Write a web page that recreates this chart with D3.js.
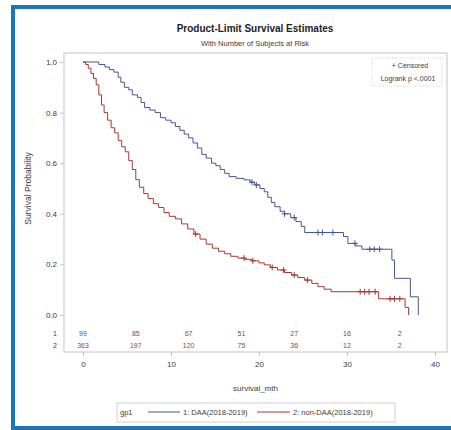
<!DOCTYPE html>
<html>
<head>
<meta charset="utf-8">
<script src="https://cdn.jsdelivr.net/npm/d3@7"></script>
<style>
  html, body { margin: 0; padding: 0; background: #fff; }
  svg { display: block; font-family: "Liberation Sans", Arial, sans-serif; }
</style>
</head>
<body>
<svg id="chart" width="451" height="430"></svg>
<script>
// ---- Data ----
const group1Label = "1: DAA(2018-2019)";
const group2Label = "2: non-DAA(2018-2019)";

const blueTimes = [0, 1.8, 2.5, 3.0, 3.5, 4.0, 4.3, 4.7, 5.2, 5.6, 6.2, 6.6, 7.0, 7.6, 8.2, 8.8, 9.4, 10.0, 10.5, 11.0, 11.5, 12.0, 12.5, 13.0, 13.5, 14.0, 14.6, 15.1, 15.6, 16.1, 16.6, 17.4, 18.3, 19.0, 19.5, 20.1, 20.6, 21.0, 21.4, 21.8, 22.4, 22.9, 23.6, 24.2, 24.8, 25.2, 29.6, 30.1, 31.0, 31.7, 35.1, 35.4, 37.2, 38.1];
const blueSurv  = [1.0, 0.99, 0.98, 0.97, 0.96, 0.94, 0.92, 0.90, 0.89, 0.87, 0.86, 0.84, 0.82, 0.81, 0.80, 0.78, 0.77, 0.76, 0.745, 0.73, 0.715, 0.70, 0.68, 0.66, 0.635, 0.62, 0.60, 0.59, 0.575, 0.56, 0.547, 0.54, 0.534, 0.525, 0.514, 0.50, 0.487, 0.465, 0.445, 0.428, 0.41, 0.40, 0.385, 0.369, 0.35, 0.326, 0.31, 0.283, 0.273, 0.26, 0.217, 0.145, 0.072, 0.0];

const redTimes = [0, 0.3, 0.6, 0.9, 1.2, 1.5, 1.8, 2.1, 2.4, 2.8, 3.2, 3.6, 4.0, 4.4, 4.8, 5.2, 5.6, 6.0, 6.4, 6.9, 7.4, 8.0, 8.6, 9.2, 9.8, 10.5, 11.2, 11.9, 12.6, 13.3, 14.0, 14.7, 15.4, 16.1, 16.8, 17.6, 18.4, 19.2, 20.0, 20.6, 21.3, 22.1, 22.9, 23.7, 24.4, 25.2, 26.0, 26.7, 27.4, 28.2, 33.6, 36.6, 37.0];
const redSurv  = [1.0, 0.99, 0.975, 0.955, 0.935, 0.91, 0.87, 0.83, 0.80, 0.77, 0.74, 0.72, 0.69, 0.665, 0.645, 0.61, 0.575, 0.535, 0.505, 0.48, 0.46, 0.44, 0.425, 0.405, 0.39, 0.38, 0.36, 0.34, 0.32, 0.30, 0.28, 0.264, 0.252, 0.242, 0.232, 0.225, 0.22, 0.214, 0.206, 0.198, 0.188, 0.178, 0.168, 0.158, 0.148, 0.138, 0.125, 0.112, 0.102, 0.092, 0.064, 0.03, 0.0];

const blueCensor = [19.2, 19.7, 22.9, 24.0, 26.7, 27.2, 28.4, 30.9, 32.6, 33.1, 33.7];
const redCensor  = [12.8, 18.3, 19.3, 21.5, 22.8, 24.0, 25.5, 31.5, 32.0, 32.5, 33.2, 34.9, 35.4, 36.0];

const xTicks = [0, 10, 20, 30, 40];
const yTicks = [0.0, 0.2, 0.4, 0.6, 0.8, 1.0];
const riskTimes = [0, 6, 12, 18, 24, 30, 36];
const riskRow1 = [99, 85, 67, 51, 27, 16, 2];
const riskRow2 = [363, 197, 120, 75, 36, 12, 2];

// ---- Drawing ----
const blue = "#445694", red = "#A23A2E", frameCol = "#c4c4c4", textCol = "#3a3a3a";
const svg = d3.select("#chart");

// outer blue border (left, top, bottom)
svg.append("rect").attr("x", 11).attr("y", 5).attr("width", 440).attr("height", 4).attr("fill", "#1d74b9");
svg.append("rect").attr("x", 11).attr("y", 426).attr("width", 440).attr("height", 4).attr("fill", "#1d74b9");
svg.append("rect").attr("x", 11).attr("y", 5).attr("width", 4).attr("height", 425).attr("fill", "#1d74b9");

const x = d3.scaleLinear().domain([0, 40]).range([83, 435]);
const y = d3.scaleLinear().domain([0, 1]).range([315, 62]);
const frame = {left: 64, top: 53, right: 447, bottom: 352};

// titles
svg.append("text").attr("x", 255).attr("y", 32).attr("text-anchor", "middle")
  .attr("font-size", 10).attr("font-weight", "bold").attr("fill", "#222")
  .text("Product-Limit Survival Estimates");
svg.append("text").attr("x", 255).attr("y", 46).attr("text-anchor", "middle")
  .attr("font-size", 7.5).attr("fill", textCol)
  .text("With Number of Subjects at Risk");

// frame
svg.append("rect").attr("x", frame.left).attr("y", frame.top)
  .attr("width", frame.right - frame.left).attr("height", frame.bottom - frame.top)
  .attr("fill", "none").attr("stroke", frameCol).attr("stroke-width", 1);

// y axis
const yAxis = svg.append("g").attr("transform", `translate(${frame.left},0)`)
  .call(d3.axisLeft(y).tickValues(yTicks).tickFormat(d3.format(".1f")).tickSize(4).tickPadding(3));
yAxis.select(".domain").remove();
yAxis.selectAll("line").attr("stroke", frameCol);
yAxis.selectAll("text").attr("font-size", 8).attr("fill", textCol).attr("font-family", "Liberation Sans, Arial, sans-serif");

// x axis
const xAxis = svg.append("g").attr("transform", `translate(0,${frame.bottom})`)
  .call(d3.axisBottom(x).tickValues(xTicks).tickSize(4).tickPadding(5));
xAxis.select(".domain").remove();
xAxis.selectAll("line").attr("stroke", frameCol);
xAxis.selectAll("text").attr("font-size", 8).attr("fill", textCol).attr("font-family", "Liberation Sans, Arial, sans-serif");

// axis labels
svg.append("text").attr("transform", `translate(31,${(y(0) + y(1)) / 2}) rotate(-90)`)
  .attr("text-anchor", "middle").attr("font-size", 8.5).attr("fill", textCol)
  .text("Survival Probability");
svg.append("text").attr("x", (frame.left + frame.right) / 2).attr("y", 391)
  .attr("text-anchor", "middle").attr("font-size", 8).attr("fill", textCol)
  .text("survival_mth");

// survival curves
const line = d3.line().x(d => x(d[0])).y(d => y(d[1])).curve(d3.curveStepAfter);
const blueData = d3.zip(blueTimes, blueSurv);
const redData = d3.zip(redTimes, redSurv);
svg.append("path").datum(blueData).attr("d", line).attr("fill", "none").attr("stroke", blue).attr("stroke-width", 1);
svg.append("path").datum(redData).attr("d", line).attr("fill", "none").attr("stroke", red).attr("stroke-width", 1);

function survAt(times, surv, t) {
  const i = d3.bisectRight(times, t) - 1;
  return surv[Math.max(0, i)];
}
function drawCensor(times, surv, cens, col) {
  const g = svg.append("g").attr("stroke", col).attr("stroke-width", 1);
  cens.forEach(t => {
    const cx = x(t), cy = y(survAt(times, surv, t));
    g.append("line").attr("x1", cx - 3).attr("x2", cx + 3).attr("y1", cy).attr("y2", cy);
    g.append("line").attr("x1", cx).attr("x2", cx).attr("y1", cy - 3).attr("y2", cy + 3);
  });
}
drawCensor(blueTimes, blueSurv, blueCensor, blue);
drawCensor(redTimes, redSurv, redCensor, red);

// at-risk table
svg.append("text").attr("x", 55).attr("y", 336).attr("text-anchor", "middle").attr("font-size", 7).attr("fill", textCol).text("1");
svg.append("text").attr("x", 55).attr("y", 348).attr("text-anchor", "middle").attr("font-size", 7).attr("fill", textCol).text("2");
svg.append("g").selectAll("text").data(d3.zip(riskTimes, riskRow1)).join("text")
  .attr("x", d => x(d[0])).attr("y", 336).attr("text-anchor", "middle")
  .attr("font-size", 7).attr("fill", blue).text(d => d[1]);
svg.append("g").selectAll("text").data(d3.zip(riskTimes, riskRow2)).join("text")
  .attr("x", d => x(d[0])).attr("y", 348).attr("text-anchor", "middle")
  .attr("font-size", 7).attr("fill", red).text(d => d[1]);

// inset
svg.append("rect").attr("x", 372).attr("y", 58).attr("width", 70).attr("height", 28)
  .attr("fill", "#fff").attr("stroke", "#d8d8d8").attr("stroke-dasharray", "1,1");
svg.append("text").attr("x", 410).attr("y", 68).attr("text-anchor", "middle").attr("font-size", 7).attr("fill", textCol).text("+ Censored");
svg.append("text").attr("x", 408).attr("y", 81).attr("text-anchor", "middle").attr("font-size", 7).attr("fill", textCol).text("Logrank p <.0001");

// legend
svg.append("rect").attr("x", 117).attr("y", 403).attr("width", 278).attr("height", 19)
  .attr("fill", "none").attr("stroke", "#d0d0d0");
svg.append("text").attr("x", 120).attr("y", 415).attr("font-size", 7.5).attr("fill", textCol).text("gp1");
svg.append("line").attr("x1", 148).attr("x2", 180).attr("y1", 412).attr("y2", 412).attr("stroke", blue);
svg.append("text").attr("x", 183).attr("y", 415).attr("font-size", 7.5).attr("fill", textCol).text(group1Label);
svg.append("line").attr("x1", 257).attr("x2", 290).attr("y1", 412).attr("y2", 412).attr("stroke", red);
svg.append("text").attr("x", 293).attr("y", 415).attr("font-size", 7.5).attr("fill", textCol).text(group2Label);
</script>
</body>
</html>
